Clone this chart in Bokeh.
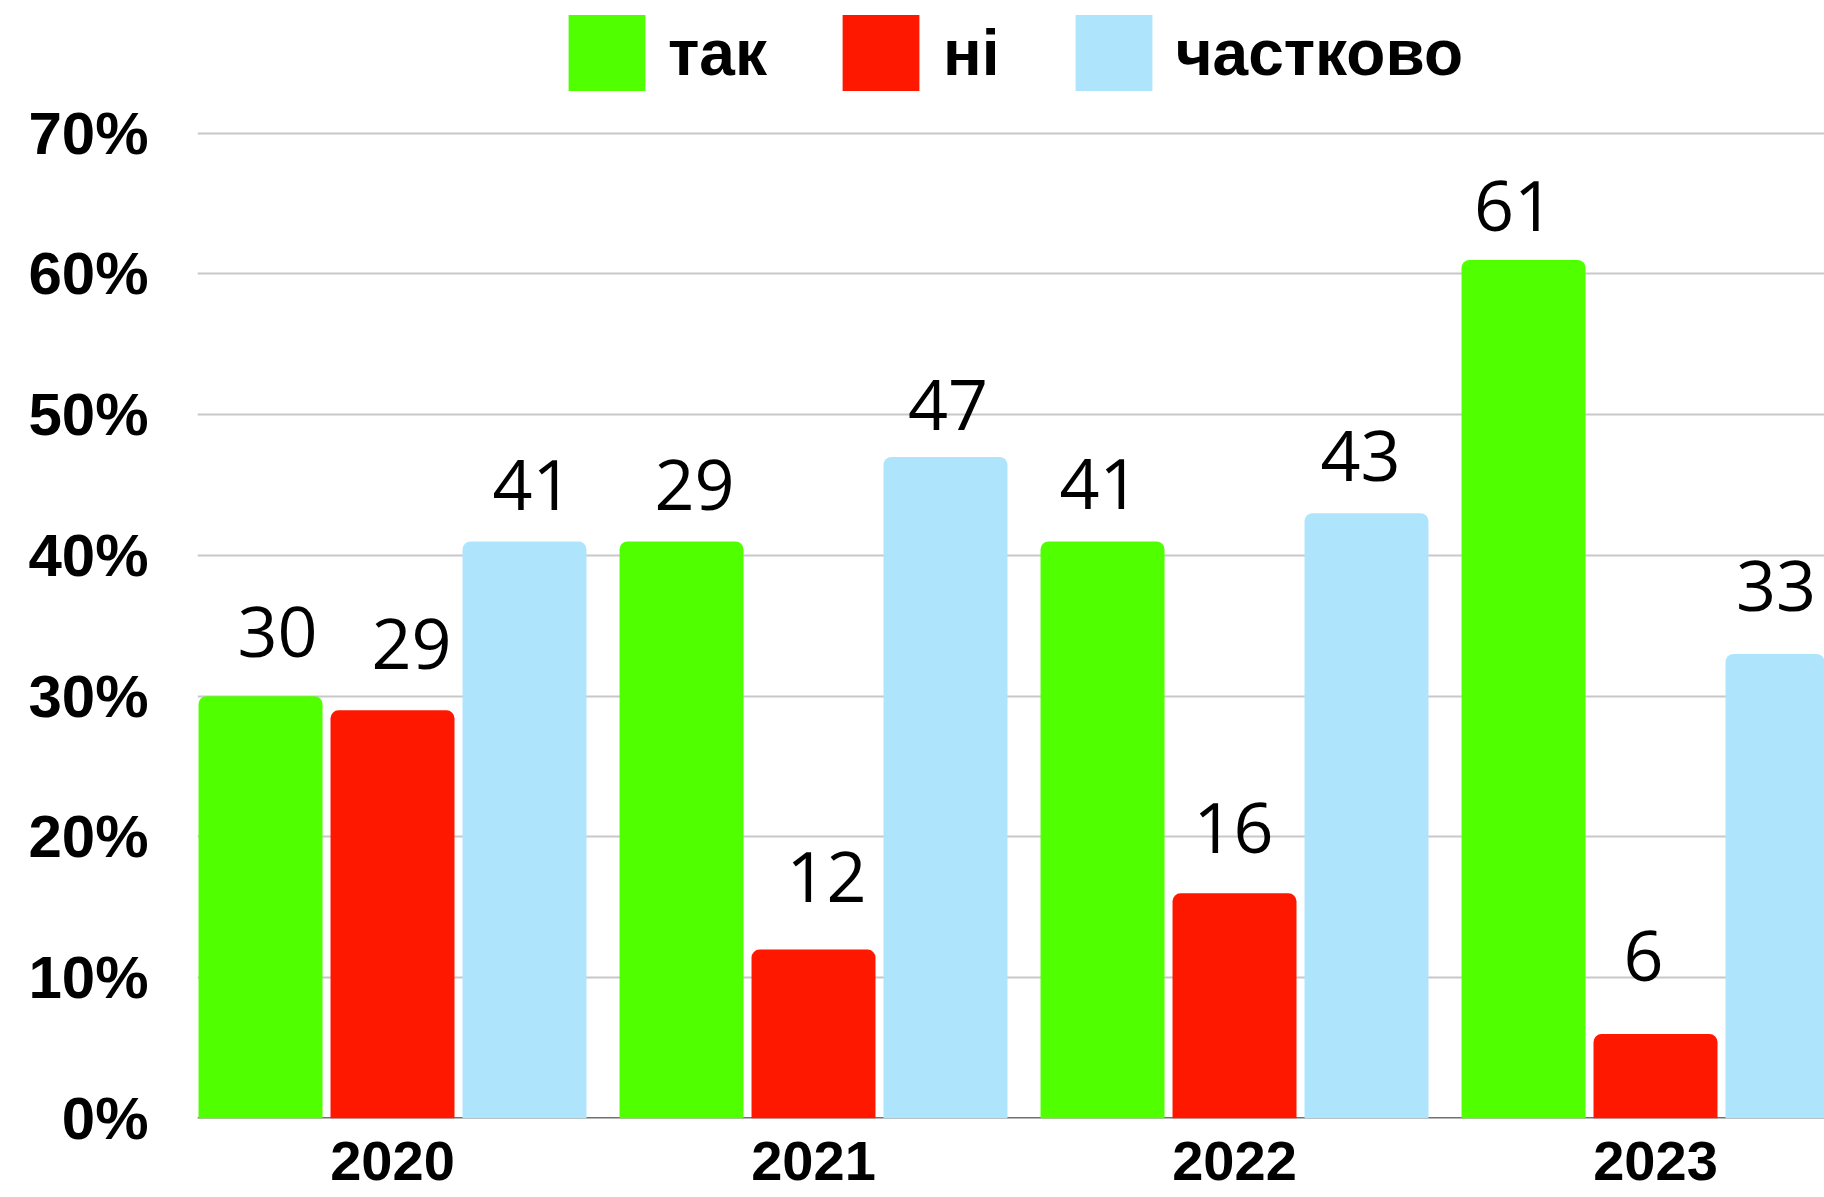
from bokeh.plotting import figure
from bokeh.models import ColumnDataSource, FixedTicker, Legend, LegendItem, Span
from bokeh.transform import dodge
from bokeh.core.properties import value
from bokeh.embed import file_html
from bokeh.resources import INLINE

# ---- data ----
years = ["2020", "2021", "2022", "2023"]
series_names = ["так", "ні", "частково"]
tak = [30, 41, 41, 61]
ni = [29, 12, 16, 6]
chastkovo = [41, 47, 43, 33]
tak_labels = ["30", "29", "41", "61"]
ni_labels = ["29", "12", "16", "6"]
chastkovo_labels = ["41", "47", "43", "33"]
y_ticks = [0, 10, 20, 30, 40, 50, 60, 70]
y_tick_labels = ["0%", "10%", "20%", "30%", "40%", "50%", "60%", "70%"]

# ---- styles ----
colors = ["#50ff00", "#ff1800", "#aee5fd"]
offsets = [-0.3135, 0.0, 0.3135]
bar_width = 0.2945
label_dx = [[17, 13, -3, -9.5], [19, 13, -1, -12], [8, 2.5, -6, -11.5]]
label_dy = [[39, 31, 32, 29], [41, 48, 40, 53], [31, 27, 32, 43]]
text_shift = 25

BOLD_FONT = "Liberation Sans"
NUM_FONT = "Open Sans"

p = figure(
    frame_width=1627, frame_height=1118,
    x_range=(-0.4632, 3.4014), y_range=(0, 79.43),
    output_backend="svg", toolbar_location=None,
    min_border_left=197, min_border_right=0, min_border_top=0, min_border_bottom=79,
)
p.outline_line_color = None
p.background_fill_color = "white"
p.border_fill_color = "white"

values_all = [tak, ni, chastkovo]
labels_all = [tak_labels, ni_labels, chastkovo_labels]
renderers = []
for s in range(3):
    src = ColumnDataSource(dict(
        idx=list(range(len(years))),
        val=values_all[s],
        lab=labels_all[s],
        dx=label_dx[s],
        dy=[-(d + text_shift) for d in label_dy[s]],
    ))
    r = p.vbar(x=dodge("idx", offsets[s], range=p.x_range), top="val", width=bar_width,
               source=src, fill_color=colors[s], line_color=None,
               border_radius=(8, 8, 0, 0))
    renderers.append(r)
    p.text(x=dodge("idx", offsets[s], range=p.x_range), y="val", text="lab",
           x_offset="dx", y_offset="dy", source=src,
           text_font=value(NUM_FONT), text_font_size="70px", text_color="black",
           text_align="center", text_baseline="alphabetic")

base = Span(location=0, dimension="width", line_color="#707070", line_width=3, level="underlay")
p.add_layout(base)

# axes
p.yaxis.ticker = FixedTicker(ticks=y_ticks)
p.yaxis.major_label_overrides = dict(zip(y_ticks, y_tick_labels))
p.yaxis.major_label_text_font = BOLD_FONT
p.yaxis.major_label_text_font_style = "bold"
p.yaxis.major_label_text_font_size = "60px"
p.yaxis.major_label_text_color = "black"
p.yaxis.major_label_standoff = 43
p.yaxis.axis_line_color = None
p.yaxis.major_tick_line_color = None
p.yaxis.minor_tick_line_color = None

p.xaxis.ticker = FixedTicker(ticks=list(range(len(years))))
p.xaxis.major_label_overrides = dict(zip(range(len(years)), years))
p.xaxis.major_label_text_font = BOLD_FONT
p.xaxis.major_label_text_font_style = "bold"
p.xaxis.major_label_text_font_size = "56px"
p.xaxis.major_label_text_color = "black"
p.xaxis.major_label_standoff = 17
p.xaxis.axis_line_color = None
p.xaxis.major_tick_line_color = None
p.xaxis.minor_tick_line_color = None

p.ygrid.ticker = FixedTicker(ticks=y_ticks)
p.ygrid.grid_line_color = "#c8c8c8"
p.ygrid.grid_line_width = 2
p.xgrid.grid_line_color = None

legend = Legend(
    items=[LegendItem(label=series_names[i], renderers=[renderers[i]]) for i in range(3)],
    orientation="horizontal", location="top_center",
    glyph_width=96, glyph_height=95, label_standoff=14, spacing=66,
    padding=0, margin=5, border_line_color=None, background_fill_alpha=0,
    label_text_font=BOLD_FONT, label_text_font_style="bold", label_text_font_size="64px",
    label_text_color="black", label_height=95,
)
p.add_layout(legend)

open("out.html", "w").write(file_html(p, INLINE))
